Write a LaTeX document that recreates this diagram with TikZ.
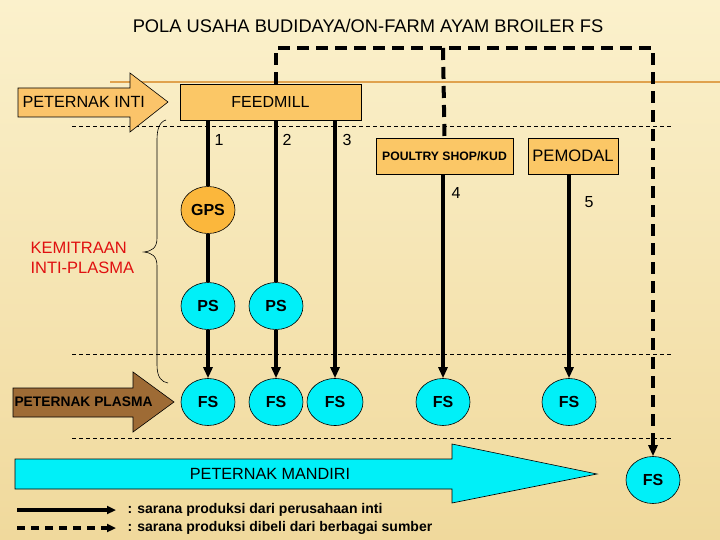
\documentclass[tikz,border=0pt]{standalone}
\usepackage{fontspec}
\setmainfont{Liberation Sans}
\usetikzlibrary{shapes.geometric,arrows.meta}
\definecolor{bgA}{HTML}{FBF1CC}
\definecolor{bgB}{HTML}{F0D99C}
\definecolor{boxor}{HTML}{FBC766}
\definecolor{arror}{HTML}{FBC46A}
\definecolor{gpsor}{HTML}{FBB73C}
\definecolor{cyanF}{HTML}{00F0F8}
\definecolor{brownA}{HTML}{9E6B35}
\definecolor{redK}{HTML}{E01010}
\definecolor{lineor}{HTML}{E0A24E}
\begin{document}
\begin{tikzpicture}[x=1pt,y=-1pt,
 ell/.style={ellipse,draw=black,line width=0.6pt,fill=cyanF,minimum width=54pt,minimum height=47pt,inner sep=0pt,font=\fontsize{16}{16}\selectfont\bfseries},
 obox/.style={draw=black,line width=0.6pt,fill=boxor,inner sep=0pt},
 thk/.style={line width=3.5pt},
 tarr/.style={-{Triangle[length=11pt,width=9pt]}},
 thindash/.style={line width=0.7pt,dash pattern=on 4pt off 3pt},
 thkdash/.style={line width=4pt,dash pattern=on 12pt off 7pt},
 num/.style={anchor=west,font=\fontsize{16}{16}\selectfont},
 shapeln/.style={line width=0.6pt,draw=black}]
\shade[top color=bgA,bottom color=bgB] (0,0) rectangle (720,540);
\useasboundingbox (0,0) rectangle (720,540);
\node[font=\fontsize{18.3}{18}\selectfont] (title) at (368,26) {POLA USAHA BUDIDAYA/ON-FARM AYAM BROILER FS};
\draw[lineor,line width=2pt] (110,82) -- (720,82);
% thin dashed separators
\draw[thindash] (72,126) -- (672,126);
\draw[thindash] (72,354) -- (672,354);
\draw[thindash] (72,438) -- (672,438);
% peternak inti arrow
\draw[shapeln,fill=arror] (18,88) -- (130,88) -- (130,73) -- (168,102) -- (130,132) -- (130,117) -- (18,117) -- cycle;
\node[anchor=west,font=\fontsize{16.2}{16}\selectfont] (inti) at (19,102) {PETERNAK INTI};
% boxes
\node[obox,minimum width=181pt,minimum height=36pt,font=\fontsize{16}{16}\selectfont] (feed) at (270.5,102) {FEEDMILL};
\node[obox,minimum width=137pt,minimum height=36pt,font=\fontsize{12.2}{12}\selectfont\bfseries] (poul) at (444.5,156) {POULTRY SHOP/KUD};
\node[obox,minimum width=90pt,minimum height=36pt,font=\fontsize{16.6}{16}\selectfont] (pem) at (573,156) {PEMODAL};
% ellipses
\node[ell,fill=gpsor] (gps) at (208,210) {GPS};
\node[ell] (ps1) at (208,306) {PS};
\node[ell] (ps2) at (276,306) {PS};
\node[ell] (fs1) at (208,402) {FS};
\node[ell] (fs2) at (276,402) {FS};
\node[ell,minimum width=56pt] (fs3) at (335,402) {FS};
\node[ell] (fs4) at (443,402) {FS};
\node[ell] (fs5) at (569,402) {FS};
\node[ell] (fs6) at (653,480) {FS};
% solid connectors
\draw[thk] (gps |- feed.south) -- (gps.north);
\draw[thk] (gps.south) -- (ps1.north);
\draw[thk,tarr] (ps1.south) -- (fs1.north);
\draw[thk] (ps2 |- feed.south) -- (ps2.north);
\draw[thk,tarr] (ps2.south) -- (fs2.north);
\draw[thk,tarr] (fs3 |- feed.south) -- (fs3.north);
\draw[thk,tarr] (fs4 |- poul.south) -- (fs4.north);
\draw[thk,tarr] (fs5 |- pem.south) -- (fs5.north);
% dashed connectors
\coordinate (dA) at (276,48);
\coordinate (dB) at (443,48);
\coordinate (dC) at (653,48);
\draw[thkdash,tarr] (ps2 |- feed.north) -- (dA) -- (dC) -- (fs6.north);
\draw[thkdash] (dB) -- (poul.north);
% numbers
\node[num] (n1) at (211,140) {1};
\node[num] (n2) at (279,140) {2};
\node[num] (n3) at (339,140) {3};
\node[num] (n4) at (448,193) {4};
\node[num] (n5) at (581,202) {5};
% brace
\draw[line width=0.6pt] (166,120) .. controls (159,122) and (157,130) .. (157,140) -- (157,238) .. controls (157,248) and (152,251) .. (144,252) .. controls (152,253) and (157,256) .. (157,266) -- (157,365) .. controls (157,378) and (162,382) .. (168,383);
\node[anchor=west,text=redK,font=\fontsize{16.5}{20}\selectfont,align=left] (kem) at (27,258) {KEMITRAAN\\INTI-PLASMA};
% peternak plasma arrow
\draw[shapeln,fill=brownA] (13,388) -- (133,388) -- (133,372) -- (174,402) -- (133,432) -- (133,417) -- (13,417) -- cycle;
\node[anchor=west,font=\fontsize{13.8}{14}\selectfont\bfseries] (plasma) at (11,402) {PETERNAK PLASMA};
% peternak mandiri arrow
\draw[shapeln,fill=cyanF] (15,459) -- (452,459) -- (452,444) -- (597,474) -- (452,503) -- (452,489) -- (15,489) -- cycle;
\node[font=\fontsize{16.2}{16}\selectfont] (mand) at (270,474) {PETERNAK MANDIRI};
% legend
\coordinate (l1a) at (17,510);
\coordinate (l1b) at (116,510);
\coordinate (l2a) at (17,528);
\coordinate (l2b) at (116,528);
\draw[line width=3.5pt,-{Triangle[length=9pt,width=8pt]}] (l1a) -- (l1b);
\draw[line width=3.5pt,dash pattern=on 8pt off 6pt,-{Triangle[length=9pt,width=8pt]}] (l2a) -- (l2b);
\node[anchor=west,font=\fontsize{14}{14}\selectfont\bfseries] (leg1) at (124,510) {: sarana produksi dari perusahaan inti};
\node[anchor=west,font=\fontsize{14}{14}\selectfont\bfseries] (leg2) at (124,528) {: sarana produksi dibeli dari berbagai sumber};
\end{tikzpicture}
\end{document}
